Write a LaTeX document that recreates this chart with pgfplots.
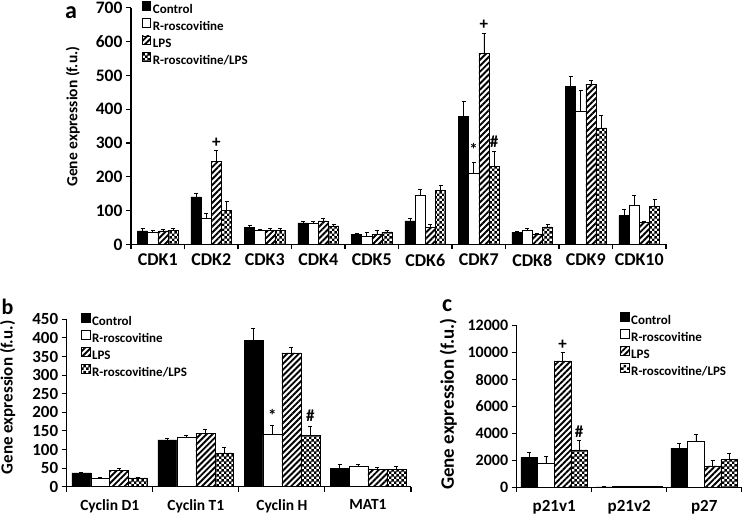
\documentclass[border=0pt]{standalone}
\usepackage{fontspec}
\setmainfont{Carlito}
\usepackage{pgfplots}
\pgfplotsset{compat=1.18}
\usepackage{pgfplotstable}
\usetikzlibrary{patterns,patterns.meta}

\pgfdeclarepatternformonly{mycheck}{\pgfpointorigin}{\pgfqpoint{5.4pt}{5.4pt}}{\pgfqpoint{5.4pt}{5.4pt}}{%
 \pgfpathrectangle{\pgfpointorigin}{\pgfqpoint{2.75pt}{2.75pt}}%
 \pgfpathrectangle{\pgfqpoint{2.7pt}{2.7pt}}{\pgfqpoint{2.75pt}{2.75pt}}%
 \pgfusepath{fill}}

\newcommand\legfont{\fontsize{13}{15.5}\selectfont\bfseries}
\newcommand\annfont{\fontsize{17}{18}\selectfont\bfseries}

\tikzset{
 ctrl/.style={fill=black, draw=black, line width=0.5pt},
 ros/.style={fill=white, draw=black, line width=0.5pt},
 lps/.style={pattern={Lines[angle=45,distance=4.2pt,line width=1.9pt]}, pattern color=black, draw=black, line width=0.5pt},
 rl/.style={pattern=mycheck, pattern color=black, draw=black, line width=0.5pt},
}

\pgfplotstableread{
x c ce r re l le k ke
0 40 8 37 4 40 4 41 8
1 141 10 77 16 246 32 101 27
2 50 6 43 3 42 7 42 5
3 64 6 62 8 70 8 55 6
4 29 5 25 10 31 10 37 4
5 70 8 147 17 51 8 160 16
6 378 46 211 33 564 59 232 44
7 36 3 43 5 29 4 52 7
8 468 29 394 61 474 12 345 37
9 87 18 117 29 65 5 113 22
}\dataA

\pgfplotstableread{
x c ce r re l le k ke
0 37 3 23 1 44 5 24 2
1 126 5 134 5 143 11 91 14
2 394 32 140 25 360 16 138 25
3 49 11 54 6 47 5 47 9
}\dataB

\pgfplotstableread{
x c ce r re l le k ke
0 2200 370 1780 490 9380 620 2770 690
1 40 10 60 10 80 10 80 10
2 2900 350 3450 500 1600 380 2050 500
}\dataC

\pgfplotsset{
 eb/.style={error bars/.cd, y dir=plus, y explicit,
   error mark options={rotate=90, black, mark size=2pt, line width=0.6pt},
   error bar style={black, line width=0.6pt}},
 base/.style={
   scale only axis, clip=false,
   axis x line*=bottom, axis y line*=left,
   ymin=0, tick align=outside, major tick length=5pt,
   axis line style={line width=1.1pt},
   every tick/.style={black, line width=1.1pt},
   /pgf/number format/assume math mode=true,
   /pgf/number format/1000 sep={},
   scaled y ticks=false,
   xticklabels={},
   legend image code/.code={\draw[##1] (0pt,-0.5pt) rectangle (8.5pt,8pt);},
   legend style={draw=none, fill=none, inner sep=0pt, font=\legfont,
     row sep=1.6pt, /tikz/every even column/.append style={column sep=5pt}},
   legend cell align=left,
 },
}

\begin{document}
\begin{tikzpicture}
\useasboundingbox (0,0) rectangle (746pt,516pt);

% panel a
\node[anchor=base west, font=\fontsize{24}{25}\selectfont\bfseries, inner sep=0pt] at (65pt,497.5pt) {a};
\begin{axis}[base,
  at={(131pt,271.5pt)}, anchor=south west, width=535pt, height=236.8pt,
  xmin=-0.5, xmax=9.5, ymax=700, ytick={0,100,...,700},
  yticklabel style={font=\fontsize{17.5}{20}\selectfont\bfseries},
  xtick={-0.5,0.5,...,9.5},
  extra x ticks={0,...,9},
  extra x tick labels={CDK1,CDK2,CDK3,CDK4,CDK5,CDK6,CDK7,CDK8,CDK9,CDK10},
  extra x tick style={major tick length=0pt, tick label style={font=\fontsize{18}{20}\selectfont\bfseries, yshift=-6pt}},
  ylabel={Gene expression (f.u.)},
  ylabel style={at={(axis description cs:-0.0953,0.54)}, anchor=south, inner sep=0pt, font=\fontsize{15.5}{18}\selectfont\bfseries},
  legend style={at={(axis description cs:0.02,1.028)}, anchor=north west},
]
\addlegendimage{ctrl}\addlegendentry{Control}
\addlegendimage{ros}\addlegendentry{R-roscovitine}
\addlegendimage{lps}\addlegendentry{LPS}
\addlegendimage{rl}\addlegendentry{R-roscovitine/LPS}
\addplot[ybar, bar width=0.19, bar shift=0pt, ctrl, forget plot, eb] table[x expr=\thisrow{x}-0.285,y=c,y error=ce]{\dataA};
\addplot[ybar, bar width=0.19, bar shift=0pt, ros, forget plot, eb] table[x expr=\thisrow{x}-0.095,y=r,y error=re]{\dataA};
\addplot[ybar, bar width=0.19, bar shift=0pt, lps, forget plot, eb] table[x expr=\thisrow{x}+0.095,y=l,y error=le]{\dataA};
\addplot[ybar, bar width=0.19, bar shift=0pt, rl, forget plot, eb] table[x expr=\thisrow{x}+0.285,y=k,y error=ke]{\dataA};
\node[font=\annfont] at (axis cs:1.095,300) {+};
\node[font=\annfont] at (axis cs:6.095,649) {+};
\node[font=\annfont] at (axis cs:5.905,280) {*};
\node[font=\annfont] at (axis cs:6.285,304) {\#};
\end{axis}

% panel b
\node[anchor=base west, font=\fontsize{22}{24}\selectfont\bfseries, inner sep=0pt] at (1.5pt,201pt) {b};
\begin{axis}[base,
  at={(66.7pt,29.3pt)}, anchor=south west, width=344.3pt, height=167.4pt,
  xmin=-0.5, xmax=3.5, ymax=450, ytick={0,50,...,450},
  yticklabel style={font=\fontsize{17}{20}\selectfont\bfseries},
  xtick={-0.5,0.5,...,3.5},
  extra x ticks={0,...,3},
  extra x tick labels={Cyclin D1,Cyclin T1,Cyclin H,MAT1},
  extra x tick style={major tick length=0pt, tick label style={font=\fontsize{15.5}{18}\selectfont\bfseries, yshift=-9.5pt}},
  ylabel={Gene expression (f.u.)},
  ylabel style={at={(axis description cs:-0.149,0.533)}, anchor=south, inner sep=0pt, font=\fontsize{17}{19}\selectfont\bfseries},
  legend style={at={(axis description cs:0.041,1.038)}, anchor=north west},
]
\addlegendimage{ctrl}\addlegendentry{Control}
\addlegendimage{ros}\addlegendentry{R-roscovitine}
\addlegendimage{lps}\addlegendentry{LPS}
\addlegendimage{rl}\addlegendentry{R-roscovitine/LPS}
\addplot[ybar, bar width=0.22, bar shift=0pt, ctrl, forget plot, eb] table[x expr=\thisrow{x}-0.33,y=c,y error=ce]{\dataB};
\addplot[ybar, bar width=0.22, bar shift=0pt, ros, forget plot, eb] table[x expr=\thisrow{x}-0.11,y=r,y error=re]{\dataB};
\addplot[ybar, bar width=0.22, bar shift=0pt, lps, forget plot, eb] table[x expr=\thisrow{x}+0.11,y=l,y error=le]{\dataB};
\addplot[ybar, bar width=0.22, bar shift=0pt, rl, forget plot, eb] table[x expr=\thisrow{x}+0.33,y=k,y error=ke]{\dataB};
\node[font=\annfont] at (axis cs:1.89,192) {*};
\node[font=\annfont] at (axis cs:2.33,190) {\#};
\end{axis}

% panel c
\node[anchor=base west, font=\fontsize{24}{26}\selectfont\bfseries, inner sep=0pt] at (442pt,204.3pt) {c};
\begin{axis}[base,
  at={(516.7pt,28.7pt)}, anchor=south west, width=225pt, height=161.6pt,
  xmin=-0.5, xmax=2.5, ymax=12000, ytick={0,2000,...,12000},
  yticklabel style={font=\fontsize{16}{18}\selectfont\bfseries},
  xtick={-0.5,0.5,...,2.5},
  extra x ticks={0,...,2},
  extra x tick labels={p21v1,p21v2,p27},
  extra x tick style={major tick length=0pt, tick label style={font=\fontsize{17}{19}\selectfont\bfseries, yshift=-10pt}},
  ylabel={Gene expression (f.u.)},
  ylabel style={at={(axis description cs:-0.265,0.515)}, anchor=south, inner sep=0pt, font=\fontsize{19}{21}\selectfont\bfseries},
  legend style={at={(axis description cs:0.459,1.085)}, anchor=north west},
]
\addlegendimage{ctrl}\addlegendentry{Control}
\addlegendimage{ros}\addlegendentry{R-roscovitine}
\addlegendimage{lps}\addlegendentry{LPS}
\addlegendimage{rl}\addlegendentry{R-roscovitine/LPS}
\addplot[ybar, bar width=0.222, bar shift=0pt, ctrl, forget plot, eb] table[x expr=\thisrow{x}-0.333,y=c,y error=ce]{\dataC};
\addplot[ybar, bar width=0.222, bar shift=0pt, ros, forget plot, eb] table[x expr=\thisrow{x}-0.111,y=r,y error=re]{\dataC};
\addplot[ybar, bar width=0.222, bar shift=0pt, lps, forget plot, eb] table[x expr=\thisrow{x}+0.111,y=l,y error=le]{\dataC};
\addplot[ybar, bar width=0.222, bar shift=0pt, rl, forget plot, eb] table[x expr=\thisrow{x}+0.333,y=k,y error=ke]{\dataC};
\node[font=\annfont] at (axis cs:0.111,10600) {+};
\node[font=\annfont] at (axis cs:0.333,4100) {\#};
\end{axis}
\end{tikzpicture}
\end{document}
